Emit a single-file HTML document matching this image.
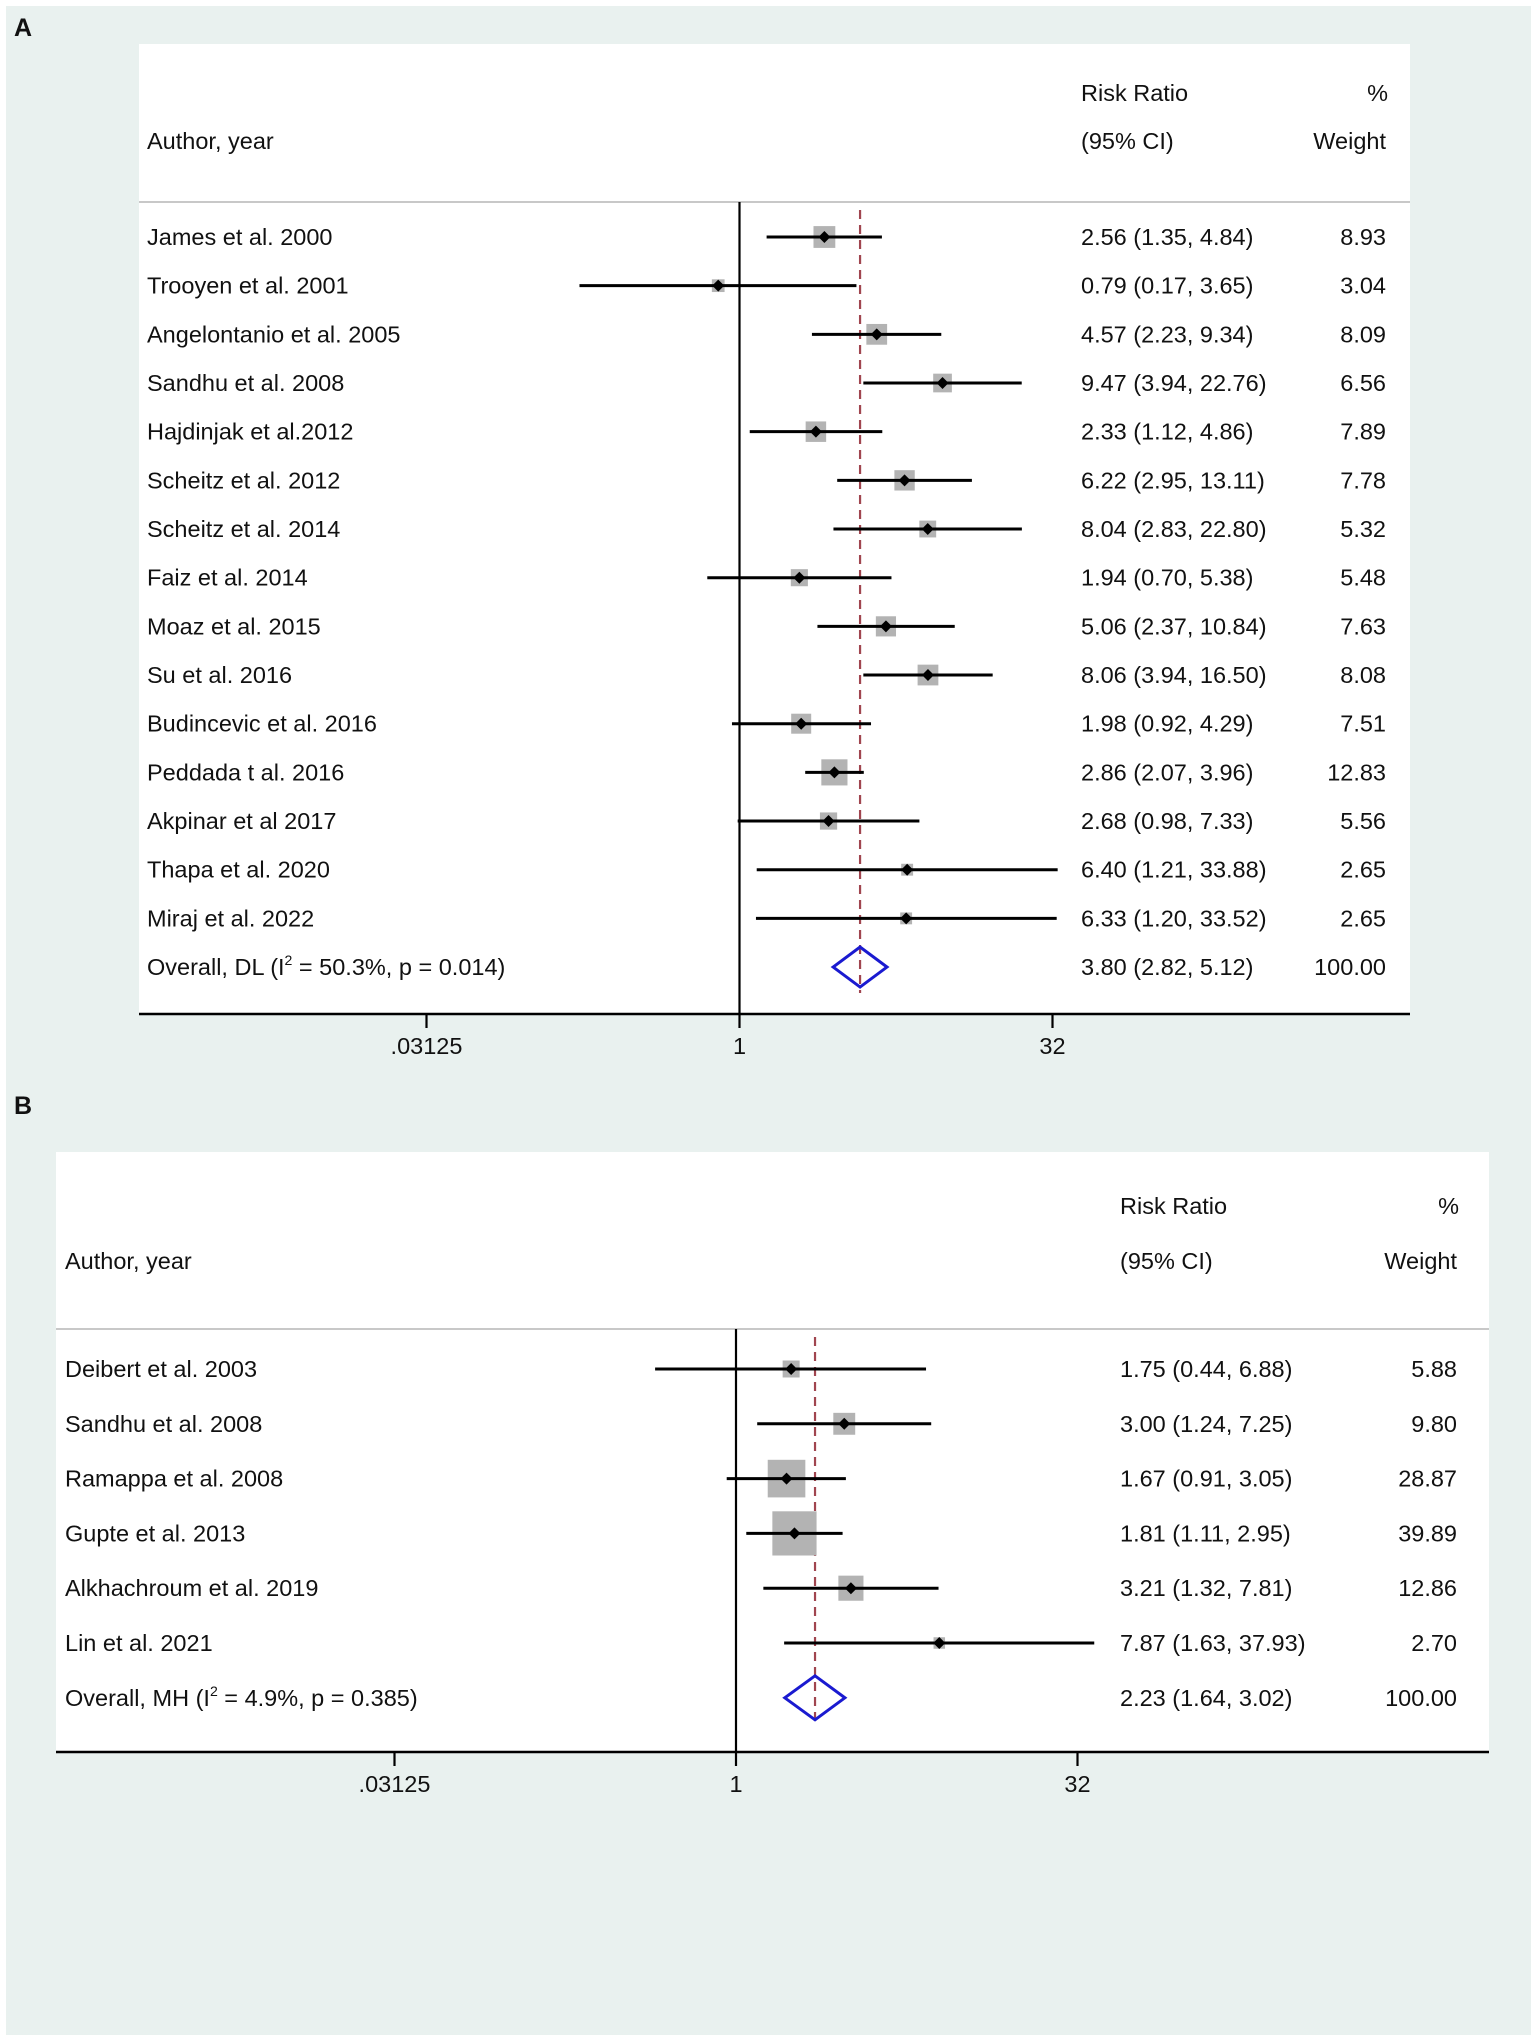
<!DOCTYPE html>
<html><head><meta charset="utf-8">
<style>
html,body{margin:0;padding:0;background:#fff;}
svg{display:block;}
text{font-family:"Liberation Sans",Arial,sans-serif;fill:#111;}
</style></head>
<body>
<svg id="fig" width="1535" height="2042" viewBox="0 0 1535 2042" xmlns="http://www.w3.org/2000/svg">
<rect x="6" y="6" width="1525" height="2029" fill="#e9f1ef"/>
<text x="14" y="36" font-size="25" font-weight="bold">A</text>
<text x="14" y="1114" font-size="25" font-weight="bold">B</text>
<g id="panelA"></g>
<g id="panelB"></g>
</svg>
<script>
// Panel A data
const studiesA = ["James et al. 2000","Trooyen et al. 2001","Angelontanio et al. 2005","Sandhu et al. 2008","Hajdinjak et al.2012","Scheitz et al. 2012","Scheitz et al. 2014","Faiz et al. 2014","Moaz et al. 2015","Su et al. 2016","Budincevic et al. 2016","Peddada t al. 2016","Akpinar et al 2017","Thapa et al. 2020","Miraj et al. 2022"];
const rrA = [2.56,0.79,4.57,9.47,2.33,6.22,8.04,1.94,5.06,8.06,1.98,2.86,2.68,6.40,6.33];
const loA = [1.35,0.17,2.23,3.94,1.12,2.95,2.83,0.70,2.37,3.94,0.92,2.07,0.98,1.21,1.20];
const hiA = [4.84,3.65,9.34,22.76,4.86,13.11,22.80,5.38,10.84,16.50,4.29,3.96,7.33,33.88,33.52];
const wA = [8.93,3.04,8.09,6.56,7.89,7.78,5.32,5.48,7.63,8.08,7.51,12.83,5.56,2.65,2.65];
const overallA = [3.80,2.82,5.12];
const overallLabelA = ["Overall, DL (I","2"," = 50.3%, p = 0.014)"];
const ticksA = [0.03125,1,32];
const tickLabelsA = [".03125","1","32"];

// Panel B data
const studiesB = ["Deibert et al. 2003","Sandhu et al. 2008","Ramappa et al. 2008","Gupte et al. 2013","Alkhachroum et al. 2019","Lin et al. 2021"];
const rrB = [1.75,3.00,1.67,1.81,3.21,7.87];
const loB = [0.44,1.24,0.91,1.11,1.32,1.63];
const hiB = [6.88,7.25,3.05,2.95,7.81,37.93];
const wB = [5.88,9.80,28.87,39.89,12.86,2.70];
const overallB = [2.23,1.64,3.02];
const overallLabelB = ["Overall, MH (I","2"," = 4.9%, p = 0.385)"];
const ticksB = [0.03125,1,32];
const tickLabelsB = [".03125","1","32"];

const NS="http://www.w3.org/2000/svg";
function mk(parent,tag,attrs){const e=document.createElementNS(NS,tag);for(const k in attrs)e.setAttribute(k,attrs[k]);parent.appendChild(e);return e;}
const fmt=v=>v.toFixed(2);

function draw(g,cfg,studies,rr,lo,hi,w,overall,olab,ticks,tlabs){
  const x=v=>cfg.x1+cfg.unit*Math.log2(v);
  const rowY=i=>cfg.y0+i*cfg.dy;
  let e;
  e=mk(g,'rect',{x:cfg.bx,y:cfg.by,width:cfg.bw,height:cfg.bh,fill:'#fff'});
  
  
  e=mk(g,'line',{x1:cfg.bx,x2:cfg.bx+cfg.bw,y1:cfg.sep,y2:cfg.sep,stroke:'#c8c8c8','stroke-width':2});
  
  
  const hdr=[["Author, year",cfg.tx,cfg.h2,'start','author-header'],["Risk Ratio",cfg.cix,cfg.h1,'start','risk-ratio-header'],["(95% CI)",cfg.cix,cfg.h2,'start','ci-header'],["%",cfg.wx+2,cfg.h1,'end','percent-header'],["Weight",cfg.wx,cfg.h2,'end','weight-header']];
  hdr.forEach(h=>{e=mk(g,'text',{x:h[1],y:h[2]+8,'font-size':cfg.fs,'text-anchor':h[3]});e.textContent=h[0];
    
    });
  e=mk(g,'line',{x1:x(1),x2:x(1),y1:cfg.sep,y2:cfg.axis,stroke:'#000','stroke-width':2.2});
  
  
  const n=studies.length;
  e=mk(g,'line',{x1:x(overall[0]),x2:x(overall[0]),y1:cfg.sep+8,y2:rowY(n)+cfg.dh+6,stroke:'#a0454f','stroke-width':2.2,'stroke-dasharray':'9,6'});
  
  
  studies.forEach((s,i)=>{
    const y=rowY(i);
    const sg=mk(g,'g',{});
    
    
    const side=cfg.c*Math.sqrt(w[i]);
    e=mk(sg,'rect',{x:x(rr[i])-side/2,y:y-side/2,width:side,height:side,fill:'#b3b3b3'});
    
    
    e=mk(sg,'line',{x1:x(lo[i]),x2:x(hi[i]),y1:y,y2:y,stroke:'#000','stroke-width':3});
    
    
    const px=x(rr[i]),d=6;
    e=mk(sg,'polygon',{points:`${px-d},${y} ${px},${y-d} ${px+d},${y} ${px},${y+d}`,fill:'#000'});
    
    
    e=mk(sg,'text',{x:cfg.tx,y:y+8,'font-size':cfg.fs});e.textContent=s;
    
    
    e=mk(sg,'text',{x:cfg.cix,y:y+8,'font-size':cfg.fs});e.textContent=`${fmt(rr[i])} (${fmt(lo[i])}, ${fmt(hi[i])})`;
    
    
    e=mk(sg,'text',{x:cfg.wx,y:y+8,'font-size':cfg.fs,'text-anchor':'end'});e.textContent=fmt(w[i]);
    
    
  });
  const oy=rowY(n);
  const a=x(overall[1]),b=x(overall[2]),m=x(overall[0]);
  e=mk(g,'polygon',{points:`${a},${oy} ${m},${oy-cfg.dh} ${b},${oy} ${m},${oy+cfg.dh}`,fill:'none',stroke:'#1a1ad0','stroke-width':3});
  
  
  e=mk(g,'text',{x:cfg.tx,y:oy+8,'font-size':cfg.fs});
  
  
  let t=mk(e,'tspan',{});t.textContent=olab[0];
  t=mk(e,'tspan',{'font-size':cfg.fs*0.6,dy:-10});t.textContent=olab[1];
  t=mk(e,'tspan',{dy:10});t.textContent=olab[2];
  e=mk(g,'text',{x:cfg.cix,y:oy+8,'font-size':cfg.fs});e.textContent=`${fmt(overall[0])} (${fmt(overall[1])}, ${fmt(overall[2])})`;
  
  
  e=mk(g,'text',{x:cfg.wx,y:oy+8,'font-size':cfg.fs,'text-anchor':'end'});e.textContent="100.00";
  
  
  e=mk(g,'line',{x1:cfg.bx,x2:cfg.bx+cfg.bw,y1:cfg.axis,y2:cfg.axis,stroke:'#000','stroke-width':2.6});
  
  
  ticks.forEach((v,i)=>{
    e=mk(g,'line',{x1:x(v),x2:x(v),y1:cfg.axis,y2:cfg.axis+14,stroke:'#000','stroke-width':2.2});
    
    
    e=mk(g,'text',{x:x(v),y:cfg.axis+40,'font-size':cfg.fs,'text-anchor':'middle'});e.textContent=tlabs[i];
    
    
  });
}
draw(document.getElementById('panelA'),{bx:139,by:44,bw:1271,bh:970,sep:202,axis:1014,x1:739.5,unit:62.6,y0:237,dy:48.67,tx:147,cix:1081,wx:1386,h1:93,h2:141,fs:23.5,c:7.3,dh:20},studiesA,rrA,loA,hiA,wA,overallA,overallLabelA,ticksA,tickLabelsA);
draw(document.getElementById('panelB'),{bx:56,by:1152,bw:1433,bh:600,sep:1329,axis:1752,x1:736,unit:68.3,y0:1369,dy:54.8,tx:65,cix:1120,wx:1457,h1:1206,h2:1261,fs:23.5,c:7.0,dh:22},studiesB,rrB,loB,hiB,wB,overallB,overallLabelB,ticksB,tickLabelsB);
</script>
</body></html>
